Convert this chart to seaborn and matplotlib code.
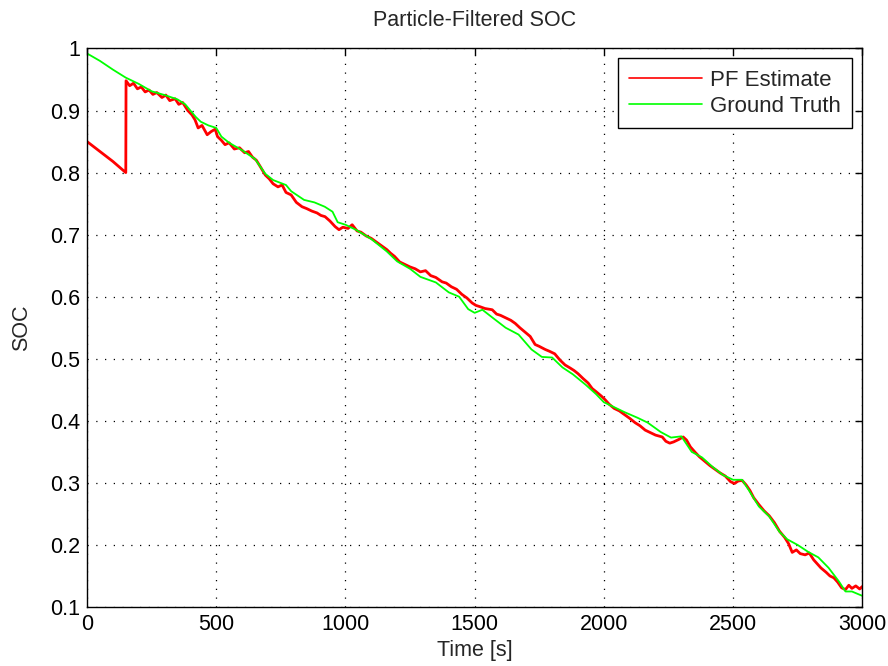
import numpy as np
import pandas as pd
import matplotlib
matplotlib.use("Agg")
import matplotlib.pyplot as plt
from matplotlib.ticker import FuncFormatter
import seaborn as sns

# Ground truth SOC
gt_t = [0, 50, 100, 150, 200, 250, 300, 350, 380, 420, 440, 470, 500, 520, 550, 600, 650, 690, 720, 770,
        790, 840, 880, 920, 950, 970, 1000, 1040, 1100, 1160, 1200, 1250, 1290, 1350, 1400, 1440, 1475, 1500,
        1530, 1570, 1620, 1670, 1720, 1760, 1800, 1840, 1880, 1930, 1970, 2000, 2040, 2080, 2130, 2170, 2220,
        2260, 2300, 2340, 2380, 2420, 2460, 2500, 2535, 2560, 2600, 2640, 2680, 2710, 2750, 2790, 2830, 2870,
        2910, 2935, 2960, 3000]
gt_v = [0.992, 0.980, 0.966, 0.953, 0.943, 0.931, 0.925, 0.918, 0.910, 0.890, 0.882, 0.876, 0.872, 0.858,
        0.848, 0.836, 0.822, 0.798, 0.788, 0.780, 0.770, 0.756, 0.752, 0.745, 0.737, 0.720, 0.716, 0.708,
        0.693, 0.673, 0.657, 0.645, 0.632, 0.623, 0.607, 0.600, 0.580, 0.574, 0.579, 0.566, 0.550, 0.539,
        0.515, 0.503, 0.502, 0.486, 0.475, 0.458, 0.443, 0.430, 0.422, 0.414, 0.405, 0.397, 0.382, 0.373,
        0.375, 0.350, 0.341, 0.326, 0.313, 0.305, 0.305, 0.289, 0.262, 0.246, 0.221, 0.209, 0.200, 0.189,
        0.180, 0.163, 0.141, 0.125, 0.125, 0.118]

# Particle filter estimate
pf_t = [0, 50, 100, 150, 151, 165, 180, 195, 210, 225, 240, 255, 270, 290, 305, 320, 341, 355, 370, 390,
        406, 418, 430, 445, 465, 480, 496, 505, 520, 534, 550, 570, 590, 610, 625, 640, 655, 670, 690, 705,
        720, 739, 755, 770, 790, 810, 832, 850, 870, 890, 905, 921, 940, 960, 975, 990, 1010, 1026, 1045,
        1060, 1080, 1100, 1120, 1140, 1160, 1175, 1190, 1210, 1230, 1250, 1270, 1290, 1310, 1330, 1350,
        1374, 1390, 1410, 1430, 1450, 1470, 1490, 1505, 1520, 1540, 1568, 1585, 1600, 1620, 1640, 1657,
        1675, 1695, 1715, 1734, 1750, 1773, 1790, 1810, 1830, 1850, 1870, 1885, 1900, 1920, 1939, 1955,
        1970, 1990, 2005, 2020, 2040, 2060, 2080, 2100, 2121, 2140, 2160, 2180, 2200, 2226, 2240, 2255,
        2270, 2290, 2307, 2320, 2335, 2354, 2370, 2390, 2410, 2430, 2450, 2470, 2490, 2505, 2520, 2535,
        2550, 2565, 2580, 2600, 2620, 2640, 2660, 2680, 2700, 2715, 2729, 2745, 2760, 2779, 2795, 2812,
        2825, 2840, 2860, 2875, 2890, 2905, 2920, 2935, 2948, 2960, 2975, 2990, 3000]
pf_v = [0.850, 0.834, 0.818, 0.800, 0.948, 0.940, 0.944, 0.935, 0.938, 0.930, 0.933, 0.926, 0.929, 0.921,
        0.925, 0.916, 0.919, 0.910, 0.913, 0.900, 0.893, 0.885, 0.872, 0.876, 0.861, 0.866, 0.870, 0.858,
        0.852, 0.845, 0.848, 0.838, 0.840, 0.832, 0.834, 0.825, 0.820, 0.810, 0.796, 0.790, 0.782, 0.777,
        0.780, 0.768, 0.764, 0.752, 0.745, 0.742, 0.738, 0.735, 0.731, 0.729, 0.722, 0.713, 0.708, 0.712,
        0.710, 0.716, 0.706, 0.704, 0.698, 0.694, 0.688, 0.682, 0.676, 0.670, 0.665, 0.656, 0.652, 0.648,
        0.645, 0.640, 0.642, 0.634, 0.631, 0.624, 0.622, 0.616, 0.612, 0.604, 0.598, 0.590, 0.586, 0.584,
        0.581, 0.579, 0.572, 0.570, 0.566, 0.562, 0.557, 0.550, 0.543, 0.536, 0.523, 0.520, 0.515, 0.512,
        0.508, 0.498, 0.490, 0.485, 0.481, 0.476, 0.468, 0.461, 0.452, 0.447, 0.440, 0.434, 0.427, 0.420,
        0.416, 0.410, 0.404, 0.397, 0.392, 0.385, 0.381, 0.377, 0.374, 0.367, 0.364, 0.366, 0.370, 0.374,
        0.369, 0.358, 0.349, 0.342, 0.335, 0.328, 0.322, 0.316, 0.311, 0.302, 0.299, 0.303, 0.304, 0.297,
        0.288, 0.276, 0.265, 0.255, 0.247, 0.236, 0.222, 0.212, 0.202, 0.188, 0.192, 0.186, 0.184, 0.187,
        0.176, 0.170, 0.163, 0.156, 0.150, 0.147, 0.140, 0.131, 0.128, 0.135, 0.130, 0.134, 0.129, 0.133]

x_ticks = [0, 500, 1000, 1500, 2000, 2500, 3000]
y_ticks = [0.1, 0.2, 0.3, 0.4, 0.5, 0.6, 0.7, 0.8, 0.9, 1.0]

sns.set_style("white")
plt.rcParams['font.family'] = ['Liberation Sans', 'DejaVu Sans']

FS = 15.5

fig = plt.figure(figsize=(8.88, 6.66), dpi=100)
ax = fig.add_axes([0.098, 0.0886, 0.873, 0.8386])

df_pf = pd.DataFrame({"t": pf_t, "v": pf_v})
df_gt = pd.DataFrame({"t": gt_t, "v": gt_v})

sns.lineplot(data=df_pf, x="t", y="v", ax=ax, color=(1, 0, 0), linewidth=2.0,
             estimator=None, sort=False, label="PF Estimate")
sns.lineplot(data=df_gt, x="t", y="v", ax=ax, color=(0, 1, 0), linewidth=1.3,
             estimator=None, sort=False, label="Ground Truth")

ax.set_xlim(0, 3000)
ax.set_ylim(0.1, 1.0)
ax.set_xticks(x_ticks)
ax.set_yticks(y_ticks)
ax.yaxis.set_major_formatter(FuncFormatter(lambda v, p: "%g" % round(v, 2)))
ax.grid(True, color="black", linestyle=(0, (1, 6)), linewidth=0.9)
ax.tick_params(direction="in", length=5, width=1, top=True, right=True,
               labelsize=FS, colors="black", pad=5)
for s in ax.spines.values():
    s.set_visible(True)
    s.set_color("black")
    s.set_linewidth(1.0)

ax.set_title("Particle-Filtered SOC", fontsize=FS, pad=16)
ax.set_xlabel("Time [s]", fontsize=FS, labelpad=4)
ax.set_ylabel("SOC", fontsize=FS, labelpad=13)

leg = ax.legend(loc="upper right", fontsize=16, frameon=True, fancybox=False,
                edgecolor="black", framealpha=1, handlelength=3.3, borderaxespad=0.45,
                handletextpad=0.35, labelspacing=0.25, borderpad=0.5)
leg.get_frame().set_linewidth(1.0)
for ln in leg.get_lines():
    ln.set_linewidth(1.2)

fig.savefig("out.png", dpi=100, facecolor="white")
